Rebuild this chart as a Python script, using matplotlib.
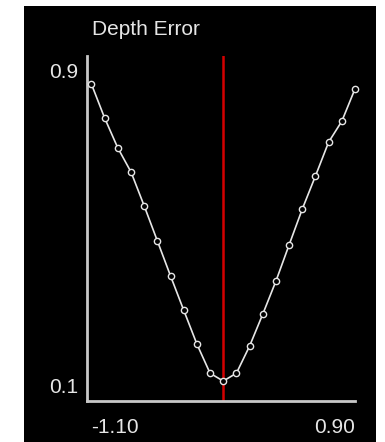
import matplotlib
matplotlib.use("Agg")
import matplotlib.pyplot as plt
from matplotlib.patches import Rectangle

# Depth error against offset
offsets = [-1.1, -1.0, -0.9, -0.8, -0.7, -0.6, -0.5, -0.4, -0.3, -0.2, -0.1,
           0.0, 0.1, 0.2, 0.3, 0.4, 0.5, 0.6, 0.7, 0.8, 0.9]
depth_error = [0.864, 0.778, 0.702, 0.641, 0.555, 0.466, 0.377, 0.290, 0.204, 0.130, 0.110,
               0.130, 0.199, 0.280, 0.364, 0.456, 0.547, 0.631, 0.717, 0.770, 0.852]
best_offset = -0.1
x_tick_labels = ["-1.10", "0.90"]
y_tick_labels = ["0.9", "0.1"]

plt.rcParams['font.family'] = ['Liberation Sans', 'DejaVu Sans']
fg = '#e6e6e6'

W, H = 385, 442
fig = plt.figure(figsize=(W / 100, H / 100), dpi=100, facecolor='white')

# black panel behind the chart
fig.add_artist(Rectangle((24 / W, 0), (376 - 24) / W, (H - 6) / H,
                         transform=fig.transFigure, facecolor='black',
                         edgecolor='none', zorder=-10))

ax = fig.add_axes([87 / W, (H - 401) / H, (355 - 87) / W, (401 - 56) / H])
ax.set_facecolor('black')

ax.plot(offsets, depth_error, color=fg, linewidth=1.2, marker='o',
        markersize=4.5, markerfacecolor='black', markeredgecolor=fg,
        markeredgewidth=1.0, clip_on=False, zorder=3)
ax.axvline(best_offset, color='#d40000', linewidth=1.8, zorder=2)

ax.set_xlim(-1.134, 0.9)
ax.set_ylim(0.0594, 0.9356)

ax.set_xticks([offsets[0], offsets[-1]])
ax.set_xticklabels(x_tick_labels)
ax.set_yticks([0.9, 0.1])
ax.set_yticklabels(y_tick_labels)
ax.tick_params(axis='both', length=0, colors=fg, labelsize=15)
ax.tick_params(axis='x', pad=12)
ax.tick_params(axis='y', pad=6)
xl = ax.get_xticklabels()
xl[0].set_horizontalalignment('left')
xl[1].set_horizontalalignment('right')

for s in ['top', 'right']:
    ax.spines[s].set_visible(False)
for s in ['left', 'bottom']:
    ax.spines[s].set_color('#c8c8c8')
    ax.spines[s].set_linewidth(2)

fig.text(92 / W, (H - 35) / H, 'Depth Error', color=fg, fontsize=15,
         ha='left', va='baseline')

fig.savefig('out.png', dpi=100, facecolor='white')
